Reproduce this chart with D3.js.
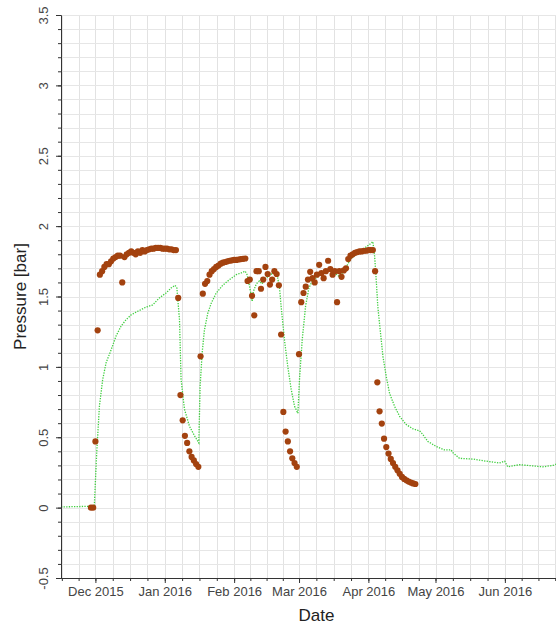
<!DOCTYPE html>
<html><head><meta charset="utf-8">
<script src="https://cdn.jsdelivr.net/npm/d3@7"></script>
<style>body{margin:0;background:#fff} svg{display:block;font-family:Arial,"Liberation Sans",sans-serif}</style>
</head><body><svg id="c" width="556" height="627"></svg>
<script>
const yTicks = [-0.5, 0, 0.5, 1, 1.5, 2, 2.5, 3, 3.5];
const yTickLabels = ["-0.5", "0", "0.5", "1", "1.5", "2", "2.5", "3", "3.5"];
const monthTicks = ["2015-12-01", "2016-01-01", "2016-02-01", "2016-03-01", "2016-04-01", "2016-05-01", "2016-06-01"];
const monthLabels = ["Dec 2015", "Jan 2016", "Feb 2016", "Mar 2016", "Apr 2016", "May 2016", "Jun 2016"];

// measured points: one per day starting at pointStart
const pointStart = "2015-11-29";
const pointValues = [
  0, 0, 0.47, 1.26, 1.655, 1.68, 1.71, 1.73, 1.73, 1.75, 1.77, 1.78, 1.79, 1.79, 1.60,
  1.78, 1.80, 1.81, 1.82, 1.81, 1.80, 1.82, 1.81, 1.83, 1.82, 1.83, 1.835, 1.84, 1.84,
  1.845, 1.845, 1.845, 1.84, 1.84, 1.84, 1.835, 1.835, 1.83, 1.83,
  1.49, 0.80, 0.62, 0.51, 0.46, 0.40, 0.36, 0.335, 0.31, 0.29,
  1.075, 1.52, 1.59, 1.61, 1.655, 1.68, 1.695, 1.71, 1.72, 1.733, 1.74, 1.745, 1.75, 1.754,
  1.757, 1.76, 1.76, 1.763, 1.766, 1.768, 1.77,
  1.61, 1.62, 1.505, 1.366, 1.68, 1.68, 1.555, 1.62, 1.71, 1.66, 1.585, 1.62, 1.68, 1.66, 1.58,
  1.23, 0.68, 0.54, 0.47, 0.40, 0.35, 0.317, 0.29,
  1.09, 1.46, 1.525, 1.57, 1.62, 1.675, 1.63, 1.60, 1.655, 1.725, 1.667, 1.63, 1.68, 1.754,
  1.695, 1.655, 1.68, 1.46, 1.68, 1.64, 1.685, 1.70, 1.766, 1.79, 1.80, 1.81, 1.815, 1.82,
  1.82, 1.825, 1.825, 1.83, 1.83, 1.83,
  1.68, 0.89, 0.684, 0.597, 0.49, 0.43, 0.384, 0.346, 0.317, 0.29, 0.265, 0.24, 0.218,
  0.204, 0.194, 0.185, 0.178, 0.172, 0.168
];

// simulated curve
const lineDates = [
  "2015-11-15 15", "2015-11-30 12", "2015-12-01 14", "2015-12-02 19", "2015-12-04 06", "2015-12-05 19",
  "2015-12-08 00", "2015-12-10 06", "2015-12-12 12", "2015-12-14 17", "2015-12-17 00", "2015-12-19 22",
  "2015-12-23 17", "2015-12-26 14", "2015-12-29 14", "2016-01-01 14", "2016-01-03 19", "2016-01-05 14",
  "2016-01-06 10", "2016-01-07 14", "2016-01-08 07", "2016-01-09 19", "2016-01-12 00", "2016-01-14 07",
  "2016-01-16 05", "2016-01-16 19", "2016-01-17 17", "2016-01-18 17", "2016-01-20 05", "2016-01-21 17",
  "2016-01-24 00", "2016-01-26 22", "2016-01-29 22", "2016-02-01 22", "2016-02-04 02", "2016-02-05 22",
  "2016-02-06 19", "2016-02-07 22", "2016-02-09 02", "2016-02-09 14", "2016-02-10 22", "2016-02-12 07",
  "2016-02-13 12", "2016-02-14 14", "2016-02-16 00", "2016-02-18 07", "2016-02-19 19", "2016-02-20 12",
  "2016-02-21 07", "2016-02-22 00", "2016-02-23 12", "2016-02-25 00", "2016-02-26 12", "2016-02-28 00",
  "2016-02-29 12", "2016-03-01 05", "2016-03-02 10", "2016-03-03 22", "2016-03-05 10", "2016-03-07 05",
  "2016-03-09 10", "2016-03-11 14", "2016-03-14 14", "2016-03-16 22", "2016-03-19 02", "2016-03-20 14",
  "2016-03-22 02", "2016-03-24 07", "2016-03-27 07", "2016-03-30 07", "2016-04-01 12", "2016-04-03 00",
  "2016-04-03 19", "2016-04-04 12", "2016-04-05 05", "2016-04-06 07", "2016-04-07 12", "2016-04-09 00",
  "2016-04-10 12", "2016-04-12 17", "2016-04-14 22", "2016-04-17 22", "2016-04-20 22", "2016-04-23 22",
  "2016-04-25 07", "2016-04-27 14", "2016-05-01 07", "2016-05-05 00", "2016-05-08 00", "2016-05-08 19",
  "2016-05-11 17", "2016-05-17 17", "2016-05-23 17", "2016-05-29 14", "2016-05-31 22", "2016-06-02 07",
  "2016-06-07 14", "2016-06-18 00", "2016-06-22 12", "2016-06-26 00"
];
const lineValues = [
  0.005, 0.01, 0.39, 0.72, 0.91, 1.03,
  1.12, 1.22, 1.29, 1.335, 1.37, 1.395,
  1.425, 1.44, 1.49, 1.525, 1.56, 1.58,
  1.56, 1.335, 0.91, 0.70, 0.58, 0.51,
  0.46, 0.86, 1.10, 1.26, 1.38, 1.45,
  1.525, 1.58, 1.62, 1.655, 1.667, 1.68,
  1.655, 1.57, 1.465, 1.535, 1.59, 1.61,
  1.59, 1.62, 1.64, 1.667, 1.667, 1.63,
  1.56, 1.43, 1.19, 1.00, 0.84, 0.72,
  0.67, 0.91, 1.19, 1.43, 1.56, 1.62,
  1.64, 1.667, 1.68, 1.667, 1.64, 1.667,
  1.71, 1.77, 1.81, 1.845, 1.87, 1.89,
  1.785, 1.62, 1.43, 1.26, 1.075, 0.93,
  0.81, 0.72, 0.65, 0.59, 0.56, 0.545,
  0.52, 0.47, 0.435, 0.41, 0.41, 0.39,
  0.35, 0.345, 0.33, 0.317, 0.33, 0.29,
  0.305, 0.29, 0.30, 0.32
];

const svg = d3.select("#c");
const mLeft = 61, mRight = 572, mTop = 15, mBottom = 578;
const parseDay = d3.timeParse("%Y-%m-%d");
const parseHour = d3.timeParse("%Y-%m-%d %H");

const x = d3.scaleTime().domain([new Date(2015, 10, 15, 15), new Date(2016, 6, 1)]).range([mLeft, mRight]);
const y = d3.scaleLinear().domain([-0.5, 3.5]).range([mBottom, mTop]);

// quarter-month minor ticks
const minorX = [];
for (let m = new Date(2015, 10, 1); m < new Date(2016, 7, 1); m = d3.timeMonth.offset(m, 1)) {
  const n = d3.timeMonth.offset(m, 1);
  for (let k = 0; k < 4; k++) {
    const t = new Date(+m + k * (n - m) / 4);
    if (t >= x.domain()[0] && t <= x.domain()[1]) minorX.push(t);
  }
}
const minorY = d3.range(-5, 36).map(i => i / 10);

// grid
const grid = svg.append("g");
grid.selectAll("line.v").data(minorX).join("line").attr("class", "v")
  .attr("x1", d => Math.round(x(d)) + 0.5).attr("x2", d => Math.round(x(d)) + 0.5)
  .attr("y1", mTop).attr("y2", mBottom).attr("stroke", "#e2e2e2").attr("stroke-width", 1);
grid.selectAll("line.h").data(minorY).join("line").attr("class", "h")
  .attr("x1", mLeft).attr("x2", mRight)
  .attr("y1", d => Math.round(y(d)) + 0.5).attr("y2", d => Math.round(y(d)) + 0.5)
  .attr("stroke", "#e6e6e6").attr("stroke-width", 1);

// curve
const lineData = lineDates.map((d, i) => [parseHour(d), lineValues[i]]);
svg.append("path").datum(lineData)
  .attr("fill", "none").attr("stroke", "#3fcf3f").attr("stroke-width", 1.3)
  .attr("stroke-dasharray", "1.3,1.3")
  .attr("d", d3.line().x(d => x(d[0])).y(d => y(d[1])));

// points
const p0 = parseDay(pointStart);
const ptData = pointValues.map((v, i) => [d3.timeDay.offset(p0, i), v]);
svg.append("g").selectAll("circle").data(ptData).join("circle")
  .attr("cx", d => x(d[0])).attr("cy", d => y(d[1])).attr("r", 3.1)
  .attr("fill", "#a3420f");

// axes
const axisColor = "#333";
const gy = svg.append("g").attr("transform", `translate(${mLeft},0)`);
gy.call(d3.axisLeft(y).tickValues(minorY).tickSize(3).tickSizeOuter(0).tickFormat(""));
const gyM = svg.append("g").attr("transform", `translate(${mLeft},0)`);
gyM.call(d3.axisLeft(y).tickValues(yTicks).tickSize(5).tickSizeOuter(0).tickFormat((d, i) => yTickLabels[i]));
gyM.selectAll("text").attr("x", null).attr("dy", null).attr("text-anchor", "middle")
  .attr("transform", "translate(-13,0) rotate(-90)")
  .attr("fill", "#444").style("font-size", "13px").style("font-family", "Arial, 'Liberation Sans', sans-serif");

const gx = svg.append("g").attr("transform", `translate(0,${mBottom})`);
gx.call(d3.axisBottom(x).tickValues(minorX).tickSize(3).tickSizeOuter(0).tickFormat(""));
const gxM = svg.append("g").attr("transform", `translate(0,${mBottom})`);
gxM.call(d3.axisBottom(x).tickValues(monthTicks.map(parseDay)).tickSize(5).tickSizeOuter(0)
  .tickFormat((d, i) => monthLabels[i]));
gxM.selectAll("text").attr("y", 18).attr("dy", null)
  .attr("fill", "#444").style("font-size", "13px").style("font-family", "Arial, 'Liberation Sans', sans-serif");

svg.selectAll(".domain").attr("stroke", axisColor);
svg.selectAll(".tick line").attr("stroke", axisColor);

// titles
svg.append("text").attr("x", (mLeft + mRight) / 2).attr("y", 621).attr("text-anchor", "middle")
  .style("font-size", "17px").attr("fill", "#222").text("Date");
svg.append("text").attr("transform", `translate(26,${(mTop + mBottom) / 2}) rotate(-90)`)
  .attr("text-anchor", "middle").style("font-size", "17px").attr("fill", "#222").text("Pressure [bar]");
</script></body></html>
